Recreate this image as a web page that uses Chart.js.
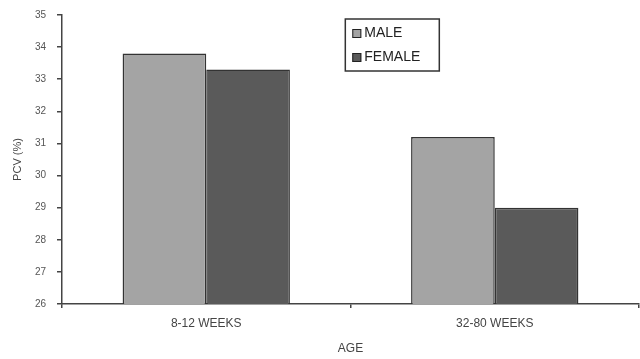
<!DOCTYPE html>
<html>
<head>
<meta charset="utf-8">
<script src="https://cdn.jsdelivr.net/npm/chart.js@4/dist/chart.umd.min.js"></script>
<style>
  html, body { margin: 0; padding: 0; background: #fff; }
  #wrap { width: 640px; height: 359px; position: relative; }
</style>
</head>
<body>
<div id="wrap"><canvas id="c"></canvas></div>
<script>
// PCV by age group and sex
const categories = ['8-12 WEEKS', '32-80 WEEKS'];
const seriesNames = ['MALE', 'FEMALE'];
const maleValues = [33.8, 31.2];
const femaleValues = [33.3, 29.0];
const yTicks = [26, 27, 28, 29, 30, 31, 32, 33, 34, 35];

const fills = ['#a4a4a4', '#5a5a5a'];
const edge = '#333333';
const axisColor = '#444444';
const family = 'Liberation Sans, Arial, sans-serif';

// Boxed legend drawn inside the plot area
const boxLegend = {
  id: 'boxLegend',
  afterDraw(chart) {
    const { ctx, chartArea } = chart;
    const x = chartArea.left + (chartArea.right - chartArea.left) * 0.491;
    const y = chartArea.top + 4;
    const w = 94, h = 52;
    ctx.save();
    ctx.fillStyle = '#fff';
    ctx.fillRect(x, y, w, h);
    ctx.strokeStyle = '#333';
    ctx.lineWidth = 1.5;
    ctx.strokeRect(x, y, w, h);
    ctx.font = '14px ' + family;
    ctx.textBaseline = 'middle';
    chart.data.datasets.forEach((ds, i) => {
      const cy = y + 14 + i * 24;
      ctx.fillStyle = ds.backgroundColor;
      ctx.fillRect(x + 7, cy - 4, 9, 9);
      ctx.strokeStyle = '#222';
      ctx.lineWidth = 1;
      ctx.strokeRect(x + 7.5, cy - 3.5, 8, 8);
      ctx.fillStyle = '#222';
      ctx.fillText(ds.label, x + 19, cy);
    });
    ctx.restore();
  }
};

new Chart(document.getElementById('c'), {
  type: 'bar',
  data: {
    labels: categories,
    datasets: [
      { label: seriesNames[0], data: maleValues, backgroundColor: fills[0], borderColor: edge, borderWidth: 1.5 },
      { label: seriesNames[1], data: femaleValues, backgroundColor: fills[1], borderColor: edge, borderWidth: 1.5 }
    ]
  },
  options: {
    responsive: true,
    maintainAspectRatio: false,
    animation: false,
    events: [],
    layout: { padding: { top: 15, right: 1, bottom: 0, left: 0 } },
    datasets: { bar: { categoryPercentage: 0.58, barPercentage: 1.0 } },
    plugins: { legend: { display: false }, tooltip: { enabled: false } },
    scales: {
      x: {
        grid: { display: true, drawOnChartArea: false, drawTicks: true, tickLength: 4, color: axisColor, lineWidth: 1.5 },
        border: { display: true, color: axisColor, width: 1.5 },
        ticks: { color: '#444', font: { family, size: 12 }, padding: 8 },
        title: { display: true, text: 'AGE', color: '#444', font: { family, size: 12 }, padding: { top: 4, bottom: 3 } },
        afterFit(scale) { scale.height = 55; scale.paddingLeft = 0; scale.paddingRight = 0; }
      },
      y: {
        min: 26,
        max: 35,
        afterBuildTicks(scale) { scale.ticks = yTicks.map(v => ({ value: v })); },
        grid: { display: true, drawOnChartArea: false, drawTicks: true, tickLength: 5, color: axisColor, lineWidth: 1.5 },
        border: { display: true, color: axisColor, width: 1.5 },
        ticks: { color: '#555', font: { family, size: 10 }, padding: 11 },
        title: { display: true, text: 'PCV (%)', color: '#444', font: { family, size: 11 }, padding: { top: 11, bottom: 4 } },
        afterFit(scale) { scale.width = 62; scale.paddingTop = 0; scale.paddingBottom = 0; }
      }
    }
  },
  plugins: [boxLegend]
});
</script>
</body>
</html>
